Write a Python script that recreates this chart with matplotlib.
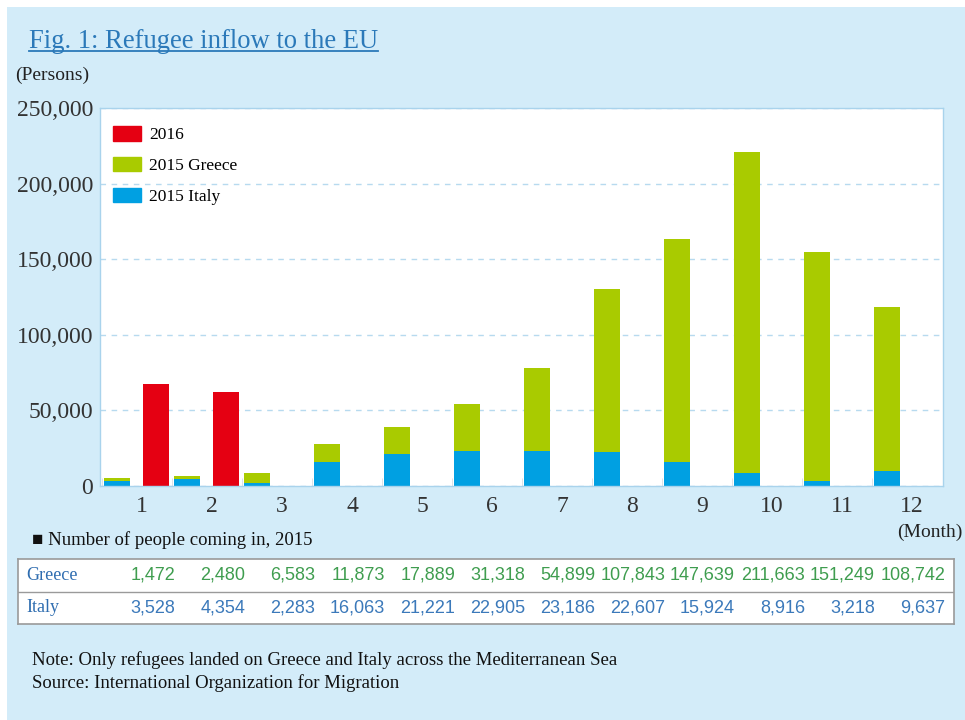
import numpy as np
import matplotlib
matplotlib.use("Agg")
import matplotlib.pyplot as plt
from matplotlib.patches import Patch, Rectangle
from matplotlib.lines import Line2D

# data (persons)
months = ["1", "2", "3", "4", "5", "6", "7", "8", "9", "10", "11", "12"]
greece_2015 = [1472, 2480, 6583, 11873, 17889, 31318, 54899, 107843, 147639, 211663, 151249, 108742]
italy_2015 = [3528, 4354, 2283, 16063, 21221, 22905, 23186, 22607, 15924, 8916, 3218, 9637]
total_2016 = [67400, 62100]
yticks = [0, 50000, 100000, 150000, 200000, 250000]

RED = "#e50012"
GREEN = "#a9cb00"
BLUE = "#00a0e2"
BG = "#d3ecf9"
SERIF = ["Liberation Serif", "DejaVu Serif"]
SANS = ["Liberation Sans", "DejaVu Sans"]

W, H = 965, 720
fig = plt.figure(figsize=(W / 100, H / 100), dpi=100, facecolor="white")
fig.patches.append(Rectangle((7 / W, 0), 1, (H - 7) / H, transform=fig.transFigure,
                             facecolor=BG, edgecolor="none", zorder=-10))

def fx(px):
    return px / W

def fy(py):
    return 1 - py / H

# main chart
ax = fig.add_axes([fx(100), fy(486), fx(943) - fx(100), fy(108) - fy(486)])
ax.set_facecolor("white")
x = np.arange(len(months))
bw = 0.36
ax.bar(x, italy_2015, width=bw, color=BLUE, zorder=2)
ax.bar(x, greece_2015, width=bw, bottom=italy_2015, color=GREEN, zorder=2)
ax.bar(x[:len(total_2016)] + 0.557, total_2016, width=bw, color=RED, zorder=2)

ax.set_xlim((100 - 117) / 70, (943 - 117) / 70)
ax.set_ylim(0, 250000)
ax.set_yticks(yticks, labels=[f"{v:,}" for v in yticks])
ax.set_xticks(x + 0.357, labels=months)
ax.set_xticks(x - 0.215, minor=True)
ax.tick_params(axis="y", length=0, pad=5, labelsize=17, labelcolor="#333333")
ax.tick_params(axis="x", which="major", length=0, pad=7, labelsize=17, labelcolor="#333333")
ax.tick_params(axis="x", which="minor", direction="in", length=6, color="#d6dee4")
for lab in ax.get_xticklabels() + ax.get_yticklabels():
    lab.set_family(SERIF)
ax.yaxis.grid(True, linestyle=(0, (4, 4)), color="#b7daef", lw=1)
ax.set_axisbelow(True)
for s in ax.spines.values():
    s.set_color("#a9d3ec")
    s.set_linewidth(1)

handles = [Patch(color=RED, label="2016"),
           Patch(color=GREEN, label="2015 Greece"),
           Patch(color=BLUE, label="2015 Italy")]
ax.legend(handles=handles, loc="upper left", bbox_to_anchor=(0.016, 0.952), frameon=False,
          prop={"family": SERIF, "size": 12.5}, handlelength=1.6, handleheight=0.9,
          handletextpad=0.45, labelspacing=0.78, borderpad=0, borderaxespad=0)

# title and labels
title = fig.text(fx(29), fy(48), "Fig. 1: Refugee inflow to the EU", family=SERIF,
                 fontsize=19.2, color="#2b79b9", va="baseline")
fig.canvas.draw()
bb = title.get_window_extent(fig.canvas.get_renderer())
fig.lines.append(Line2D([bb.x0 / W, bb.x1 / W], [fy(51), fy(51)], transform=fig.transFigure,
                        color="#2b79b9", lw=1.3))
fig.text(fx(15), fy(75), "(Persons)", family=SERIF, fontsize=14, color="#222222", va="center")
fig.text(fx(963), fy(532), "(Month)", family=SERIF, fontsize=14, color="#222222",
         va="center", ha="right")
fig.text(fx(32), fy(540), "\u25a0 Number of people coming in, 2015", family=SERIF,
         fontsize=13.5, color="#111111", va="center")

# table
tab = fig.add_axes([fx(18), fy(624), fx(954) - fx(18), fy(559) - fy(624)])
tab.set_facecolor("white")
tab.set_xlim((18 - 117) / 70, (954 - 117) / 70)
tab.set_ylim(0, 2)
tab.set_xticks([])
tab.set_yticks([])
tab.axhline(1, color="#9a9a9a", lw=1)
for s in tab.spines.values():
    s.set_color("#9a9a9a")
    s.set_linewidth(1.2)
rows = [("Greece", greece_2015, "#3f9d4f", 1.5), ("Italy", italy_2015, "#3b79ba", 0.5)]
for name, vals, col, yy in rows:
    tab.text((26 - 117) / 70, yy, name, family=SERIF, fontsize=13, color="#2f6db0",
             va="center", ha="left")
    for i, v in enumerate(vals):
        tab.text(i + 0.83, yy, f"{v:,}", family=SANS, fontsize=13, color=col,
                 va="center", ha="right")

# notes
fig.text(fx(32), fy(660), "Note: Only refugees landed on Greece and Italy across the Mediterranean Sea",
         family=SERIF, fontsize=13.5, color="#111111", va="center")
fig.text(fx(32), fy(683), "Source: International Organization for Migration",
         family=SERIF, fontsize=13.5, color="#111111", va="center")

fig.savefig("out.png", dpi=100, facecolor=fig.get_facecolor())
